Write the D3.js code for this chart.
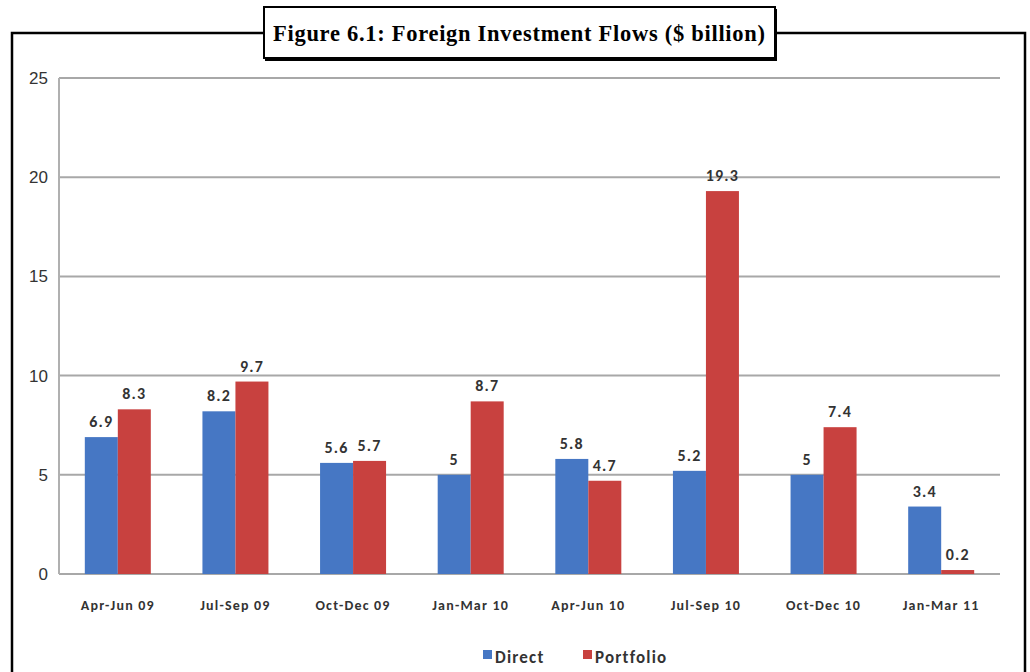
<!DOCTYPE html>
<html><head><meta charset="utf-8">
<script src="https://cdn.jsdelivr.net/npm/d3@7"></script>
<style>body{margin:0;background:#fff;}svg{display:block;}</style>
</head><body>
<svg id="c" width="1030" height="672"></svg>
<script>
const categories = ["Apr-Jun 09","Jul-Sep 09","Oct-Dec 09","Jan-Mar 10","Apr-Jun 10","Jul-Sep 10","Oct-Dec 10","Jan-Mar 11"];
const direct = [6.9, 8.2, 5.6, 5, 5.8, 5.2, 5, 3.4];
const portfolio = [8.3, 9.7, 5.7, 8.7, 4.7, 19.3, 7.4, 0.2];
const seriesNames = ["Direct","Portfolio"];
const yTicks = [0,5,10,15,20,25];
const titleText = "Figure 6.1: Foreign Investment Flows ($ billion)";
const colors = ["#4677c4","#c8413f"];

const svg = d3.select("#c");
// outer frame
svg.append("rect").attr("x",12).attr("y",33).attr("width",1013).attr("height",660)
  .attr("fill","none").attr("stroke","#000").attr("stroke-width",2.5);

const x0 = d3.scaleBand().domain(categories).range([59,1000]).paddingInner(0).paddingOuter(0);
const groupW = 66;
const x1 = d3.scaleBand().domain(seriesNames).range([0,groupW]);
const y = d3.scaleLinear().domain([0,25]).range([574,78]);

// gridlines
const g = svg.append("g");
g.selectAll("line.grid").data(yTicks).join("line")
  .attr("x1",59).attr("x2",1000).attr("y1",d=>y(d)).attr("y2",d=>y(d))
  .attr("stroke","#a8a8a8").attr("stroke-width",2);
g.append("line").attr("x1",59).attr("x2",59).attr("y1",y(25)).attr("y2",y(0))
  .attr("stroke","#b0b0b0").attr("stroke-width",2);

// y axis labels
const yAxis = d3.axisLeft(y).tickValues(yTicks).tickSize(0).tickPadding(0);
const ya = svg.append("g").attr("transform","translate(48,0)").call(yAxis);
ya.select(".domain").remove();
ya.selectAll("text").attr("font-family","Liberation Sans, Arial, sans-serif").attr("font-size",17).attr("fill","#333");

const lblFont = "Carlito, Calibri, Liberation Sans, sans-serif";
// bars
const data = categories.map((c,i)=>({c, vals:[direct[i],portfolio[i]]}));
const groups = svg.selectAll("g.grp").data(data).join("g")
  .attr("transform",d=>`translate(${x0(d.c)+x0.bandwidth()/2-groupW/2},0)`);
groups.selectAll("rect").data(d=>d.vals.map((v,j)=>({v,s:seriesNames[j],j}))).join("rect")
  .attr("x",d=>x1(d.s)).attr("width",x1.bandwidth())
  .attr("y",d=>y(d.v)).attr("height",d=>y(0)-y(d.v))
  .attr("fill",d=>colors[d.j]);
groups.selectAll("text").data(d=>d.vals.map((v,j)=>({v,s:seriesNames[j],j}))).join("text")
  .attr("x",d=>x1(d.s)+x1.bandwidth()/2).attr("y",d=>y(d.v)-10)
  .attr("text-anchor","middle").attr("font-family",lblFont)
  .attr("font-weight","bold").attr("font-size",16).attr("letter-spacing",1.2).attr("fill","#333").text(d=>d.v);

// x axis labels
const xAxis = d3.axisBottom(x0).tickSize(0).tickPadding(0);
const xa = svg.append("g").attr("transform","translate(0,610)").call(xAxis);
xa.select(".domain").remove();
xa.selectAll("text").attr("dy",0).attr("font-family",lblFont)
  .attr("font-weight","bold").attr("font-size",14).attr("letter-spacing",1.2).attr("fill","#333");

// legend
const legX = [483, 583];
const leg = svg.selectAll("g.leg").data(seriesNames).join("g")
  .attr("transform",(d,i)=>`translate(${legX[i]},657)`);
leg.append("rect").attr("x",0).attr("y",-7).attr("width",9).attr("height",9).attr("fill",(d,i)=>colors[i]);
leg.append("text").attr("x",12).attr("y",6).attr("font-family",lblFont)
  .attr("font-weight","bold").attr("font-size",17).attr("letter-spacing",1.2).attr("fill","#333").text(d=>d);

// title box
svg.append("rect").attr("x",265).attr("y",9).attr("width",512).attr("height",52).attr("fill","#000");
svg.append("rect").attr("x",264).attr("y",7).attr("width",511).attr("height",51)
  .attr("fill","#fff").attr("stroke","#000").attr("stroke-width",2);
svg.append("text").attr("x",273).attr("y",41)
  .attr("font-family","Liberation Serif, DejaVu Serif, serif").attr("font-weight","bold")
  .attr("font-size",22.5).attr("fill","#000")
  .attr("textLength",492).attr("lengthAdjust","spacing").text(titleText);
</script>
</body></html>
